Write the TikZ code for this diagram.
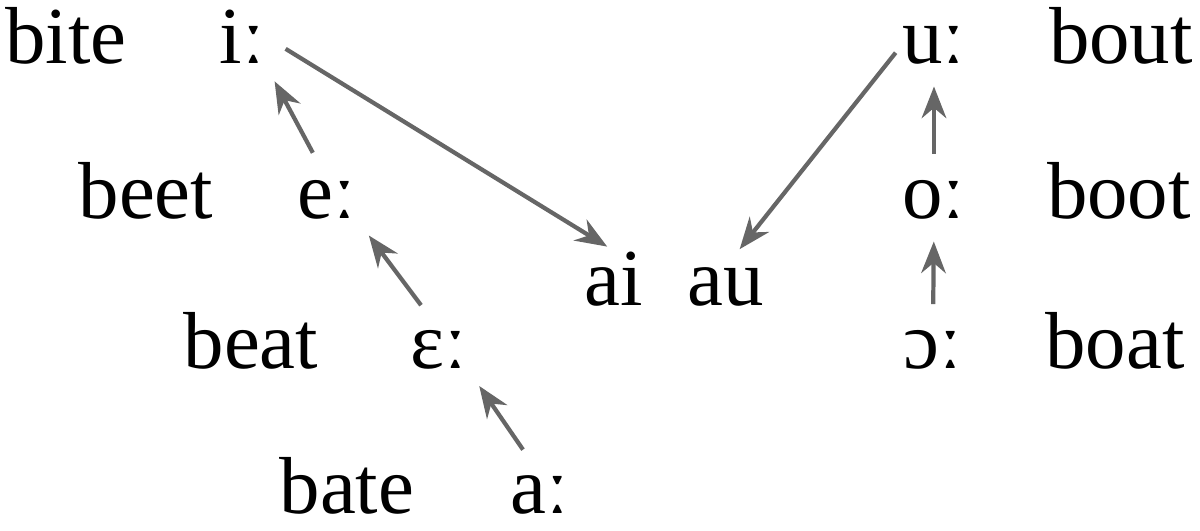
\documentclass[tikz,border=0pt]{standalone}
\usepackage{fontspec}
\setmainfont{Liberation Serif}
\usetikzlibrary{arrows.meta}

\begin{document}
\begin{tikzpicture}[
    word/.style={inner sep=0pt, anchor=base, font=\fontsize{23}{27}\selectfont},
    vshift/.style={-{Stealth[length=9pt,width=7pt]}, draw=black!60, line width=1.2pt}
  ]
            \useasboundingbox (0,0) rectangle (12,-5.3);

            %front vowels and their words
            \node[word] (bite) at (0.66, -0.63) {bite};
            \node[word] (ii) at (2.42, -0.63) {iː};
            \node[word] (beet) at (1.46, -2.18) {beet};
            \node[word] (ee) at (3.27, -2.18) {eː};
            \node[word] (beat) at (2.51, -3.68) {beat};
            \node[word] (eps) at (4.39, -3.68) {ɛː};
            \node[word] (bate) at (3.47, -5.13) {bate};
            \node[word] (aa) at (5.40, -5.13) {aː};

            %diphthongs in the middle
            \node[word] (ai) at (6.14, -3.05) {ai};
            \node[word] (au) at (7.26, -3.05) {au};

            %back vowels and their words
            \node[word] (uu) at (9.34, -0.63) {uː};
            \node[word] (bout) at (11.21, -0.63) {bout};
            \node[word] (oo) at (9.34, -2.18) {oː};
            \node[word] (boot) at (11.19, -2.18) {boot};
            \node[word] (opo) at (9.33, -3.68) {ɔː};
            \node[word] (boat) at (11.15, -3.68) {boat};

            \draw[vshift, shorten <=0.3cm, shorten >=0.2cm] (ee.north) -- (ii.south east);
            \draw[vshift, shorten <=0.3cm, shorten >=0.2cm] (eps.north) -- (ee.south east);
            \draw[vshift, shorten <=0.3cm, shorten >=0.2cm] (aa.north) -- (eps.south east);

            \draw[vshift, shorten <=0.24cm, shorten >=0.08cm] (ii.east) -- (ai.north);
            \draw[vshift, shorten <=0.1cm, shorten >=0.22cm] (uu.west) -- (au.north);

            \draw[vshift, shorten <=0.25cm, shorten >=0.22cm] (oo.north) -- (uu.south);
            \draw[vshift, shorten <=0.25cm, shorten >=0.22cm] (opo.north) -- (oo.south);

        \end{tikzpicture}
\end{document}
